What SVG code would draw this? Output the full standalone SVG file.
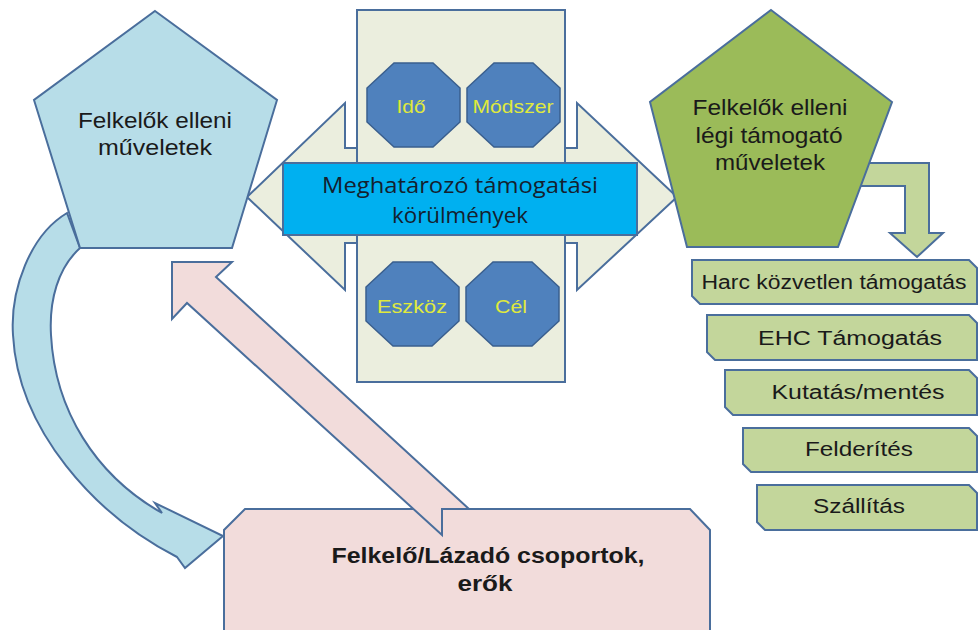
<svg xmlns="http://www.w3.org/2000/svg" width="980" height="630" viewBox="0 0 980 630">
<defs>
<style>
.st{stroke:#4A6E9C;stroke-width:2;stroke-linejoin:miter}
.oct{fill:#4F81BD;stroke:#3A5F8E;stroke-width:1.5}
.t{font-family:"Liberation Sans",Arial,sans-serif;fill:#1a1a1a;text-anchor:middle}
.y{font-family:"Liberation Sans",Arial,sans-serif;fill:#E0EA3C;text-anchor:middle;font-size:19px}
.c{font-family:"Open Sans","Liberation Sans",sans-serif;fill:#14202e;text-anchor:middle;font-size:22px}
.lst{fill:#C3D69B}
</style>
<path id="octo" d="M27,0 L66,0 L93,25 L93,59 L66,84 L27,84 L0,59 L0,25 Z"/>
</defs>
<rect width="980" height="630" fill="#ffffff"/>

<g id="connectors">
<path id="curved-arrow" class="st" fill="#B7DDE8" d="M67,213 C30,235 10,290 13,335 C18,430 95,515 177,557 L185,568 L223,536 L155,503 L162,513 C95,475 55,410 51,335 C49,300 58,268 80,248 Z"/>
<path id="bent-arrow" class="st" fill="#C3D69B" d="M860,163 L929,163 L929,233 L943,233 L917,257 L890,233 L905,233 L905,186 L860,186 Z"/>
</g>

<g id="center-arrow">
<path class="st" fill="#EBEEDE" d="M247,197 L345,103 L345,148 L577,148 L577,103 L677,197 L577,290 L577,243 L345,243 L345,290 Z"/>
</g>

<g id="center-panel">
<rect class="st" x="357" y="10" width="208" height="372" fill="#EBEEDE"/>
</g>

<g id="banner">
<rect class="st" x="283" y="163" width="354" height="72" fill="#00B0F0"/>
<text class="c" x="460" y="193" textLength="276" lengthAdjust="spacingAndGlyphs">Meghatározó támogatási</text>
<text class="c" x="460" y="223" textLength="136" lengthAdjust="spacingAndGlyphs">körülmények</text>
</g>

<g id="ido">
<use href="#octo" class="oct" transform="translate(367,63)"/>
<text class="y" x="411" y="113" textLength="29" lengthAdjust="spacingAndGlyphs">Idő</text>
</g>
<g id="modszer">
<use href="#octo" class="oct" transform="translate(467,63)"/>
<text class="y" x="513" y="113" textLength="81" lengthAdjust="spacingAndGlyphs">Módszer</text>
</g>
<g id="eszkoz">
<use href="#octo" class="oct" transform="translate(366,262)"/>
<text class="y" x="412" y="313" textLength="70" lengthAdjust="spacingAndGlyphs">Eszköz</text>
</g>
<g id="cel">
<use href="#octo" class="oct" transform="translate(466,262)"/>
<text class="y" x="511" y="313" textLength="32" lengthAdjust="spacingAndGlyphs">Cél</text>
</g>

<g id="left-pentagon">
<polygon class="st" fill="#B7DDE8" points="155,11 277,100 232,248 80,248 34,100"/>
<text class="t" x="155" y="128" font-size="22" textLength="154" lengthAdjust="spacingAndGlyphs">Felkelők elleni</text>
<text class="t" x="155" y="155" font-size="22" textLength="114" lengthAdjust="spacingAndGlyphs">műveletek</text>
</g>

<g id="right-pentagon">
<polygon class="st" fill="#9BBB59" points="771,10 892,102 838,247 687,247 650,102"/>
<text class="t" x="770" y="115" font-size="22" textLength="155" lengthAdjust="spacingAndGlyphs">Felkelők elleni</text>
<text class="t" x="769" y="143" font-size="22" textLength="147" lengthAdjust="spacingAndGlyphs">légi támogató</text>
<text class="t" x="770" y="170" font-size="22" textLength="110" lengthAdjust="spacingAndGlyphs">műveletek</text>
</g>

<g id="bottom-box">
<path class="st" fill="#F2DCDB" d="M224,640 L224,530 L245,509 L690,509 L710,530 L710,640 Z"/>
</g>
<g id="pink-arrow">
<path class="st" fill="#F2DCDB" d="M172,262 L232,262 L216,277 L469,509 L442,509 L442,535 L187,303 L172,319 Z"/>
</g>
<g id="bottom-text">
<text class="t" x="488" y="563" font-size="22" font-weight="bold" textLength="313" lengthAdjust="spacingAndGlyphs">Felkelő/Lázadó csoportok,</text>
<text class="t" x="485" y="591" font-size="22" font-weight="bold" textLength="55" lengthAdjust="spacingAndGlyphs">erők</text>
</g>

<g id="list-1">
<path class="st lst" d="M692,260 L969,260 L977,268 L977,304 L700,304 L692,296 Z"/>
<text class="t" x="834" y="289" font-size="20" textLength="265" lengthAdjust="spacingAndGlyphs">Harc közvetlen támogatás</text>
</g>
<g id="list-2">
<path class="st lst" d="M707,315 L969,315 L977,323 L977,360 L715,360 L707,352 Z"/>
<text class="t" x="850" y="345" font-size="20" textLength="184" lengthAdjust="spacingAndGlyphs">EHC Támogatás</text>
</g>
<g id="list-3">
<path class="st lst" d="M725,370 L969,370 L977,378 L977,415 L733,415 L725,407 Z"/>
<text class="t" x="858" y="399" font-size="20" textLength="173" lengthAdjust="spacingAndGlyphs">Kutatás/mentés</text>
</g>
<g id="list-4">
<path class="st lst" d="M743,428 L969,428 L977,436 L977,472 L751,472 L743,464 Z"/>
<text class="t" x="859" y="456" font-size="20" textLength="108" lengthAdjust="spacingAndGlyphs">Felderítés</text>
</g>
<g id="list-5">
<path class="st lst" d="M757,485 L969,485 L977,493 L977,530 L765,530 L757,522 Z"/>
<text class="t" x="859" y="513" font-size="20" textLength="92" lengthAdjust="spacingAndGlyphs">Szállítás</text>
</g>
</svg>
